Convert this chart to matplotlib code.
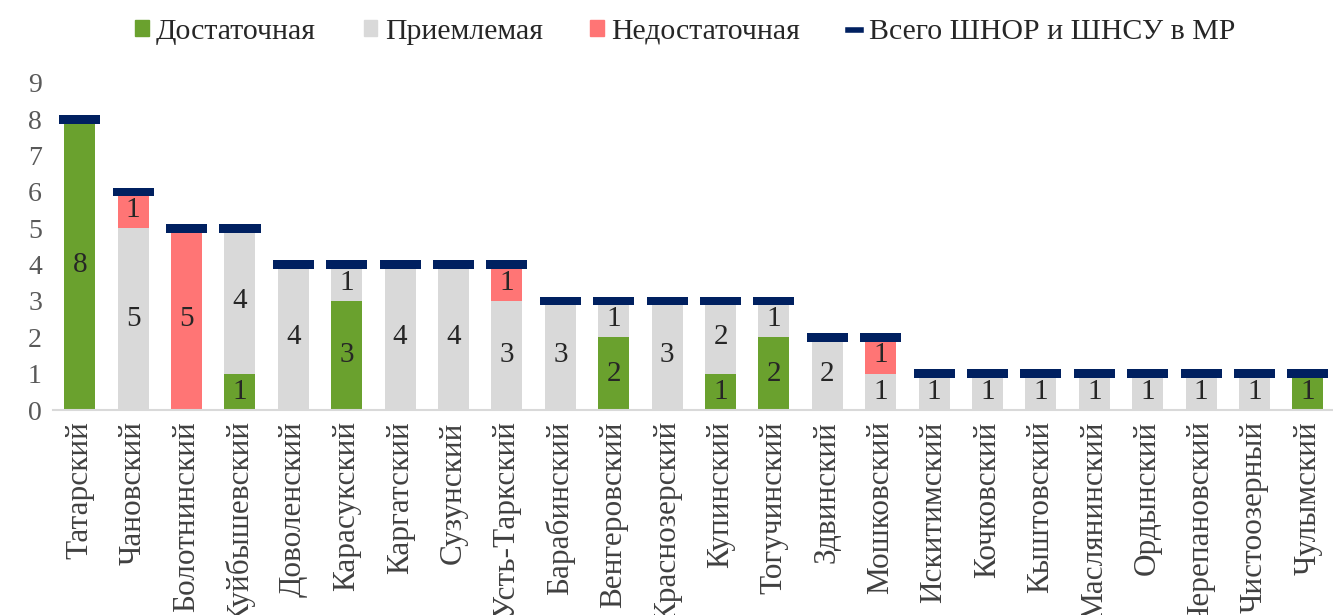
import matplotlib
matplotlib.use("Agg")
import matplotlib.pyplot as plt
from matplotlib.patches import Patch
from matplotlib.lines import Line2D
import numpy as np

plt.rcParams['font.family'] = ['Liberation Serif', 'DejaVu Serif']

districts = ["Татарский", "Чановский", "Болотнинский", "Куйбышевский", "Доволенский",
             "Карасукский", "Каргатский", "Сузунский", "Усть-Таркский", "Барабинский",
             "Венгеровский", "Краснозерский", "Купинский", "Тогучинский", "Здвинский",
             "Мошковский", "Искитимский", "Кочковский", "Кыштовский", "Маслянинский",
             "Ордынский", "Черепановский", "Чистоозерный", "Чулымский"]
sufficient   = [8, 0, 0, 1, 0, 3, 0, 0, 0, 0, 2, 0, 1, 2, 0, 0, 0, 0, 0, 0, 0, 0, 0, 1]
acceptable   = [0, 5, 0, 4, 4, 1, 4, 4, 3, 3, 1, 3, 2, 1, 2, 1, 1, 1, 1, 1, 1, 1, 1, 0]
insufficient = [0, 1, 5, 0, 0, 0, 0, 0, 1, 0, 0, 0, 0, 0, 0, 1, 0, 0, 0, 0, 0, 0, 0, 0]
totals       = [8, 6, 5, 5, 4, 4, 4, 4, 4, 3, 3, 3, 3, 3, 2, 2, 1, 1, 1, 1, 1, 1, 1, 1]

c_green = "#6AA12E"
c_gray = "#D9D9D9"
c_red = "#FF7575"
c_navy = "#002060"

fig = plt.figure(figsize=(13.33, 6.15), dpi=100)
ax = fig.add_axes([0.0398, 0.3333, 0.9602, 0.532])

x = np.arange(len(districts))
s = np.array(sufficient, float)
a = np.array(acceptable, float)
r = np.array(insufficient, float)
t = np.array(totals, float)
w = 0.58

ax.bar(x, s, w, color=c_green, zorder=2)
ax.bar(x, a, w, bottom=s, color=c_gray, zorder=2)
ax.bar(x, r, w, bottom=s + a, color=c_red, zorder=2)
ax.bar(x, 0.24, 0.77, bottom=t - 0.12, color=c_navy, zorder=3)

for vals, bottoms in [(s, np.zeros_like(s)), (a, s), (r, s + a)]:
    for xi, v, b in zip(x, vals, bottoms):
        if v > 0:
            ax.text(xi, b + v / 2, f"{int(v)}", ha='center', va='center',
                    fontsize=21, color='#262626', zorder=4)

ax.set_xlim(-0.5, 23.47)
ax.set_ylim(0, 9)
ax.set_yticks(range(10))
ax.tick_params(axis='y', length=0, labelsize=20, labelcolor='#595959', pad=8)
ax.set_xticks(x)
ax.set_xticklabels(districts, rotation=90, fontsize=22.5, color='#404040', va='top')
ax.tick_params(axis='x', length=0, pad=8)
for sp in ['top', 'right', 'left']:
    ax.spines[sp].set_visible(False)
ax.spines['bottom'].set_color('#D9D9D9')
ax.spines['bottom'].set_linewidth(1.5)

handles = [Patch(color=c_green), Patch(color=c_gray), Patch(color=c_red),
           Line2D([], [], color=c_navy, lw=4)]
labels = ["Достаточная", "Приемлемая", "Недостаточная", "Всего ШНОР и ШНСУ в МР"]
fig.legend(handles, labels, loc='center', bbox_to_anchor=(0.514, 0.948), ncol=4,
           frameon=False, fontsize=21.5, handlelength=0.45, handleheight=0.45,
           handletextpad=0.25, columnspacing=1.6, labelcolor='#262626')

fig.savefig("out.png", dpi=100)
